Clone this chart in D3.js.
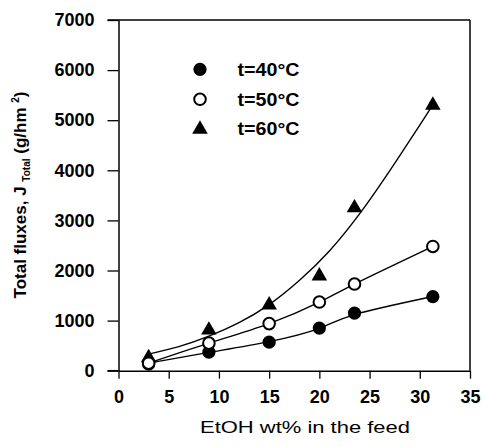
<!DOCTYPE html>
<html><head><meta charset="utf-8">
<script src="https://cdn.jsdelivr.net/npm/d3@7"></script>
<style>body{margin:0;background:#fff}svg{display:block}</style>
</head><body>
<svg id="c" width="483" height="447"></svg>
<script>
const etoh = [3, 9, 15, 20, 23.5, 31.3];
const flux40 = [130, 370, 570, 850, 1150, 1480];
const flux50 = [150, 550, 940, 1370, 1730, 2480];
const flux60 = [280, 830, 1330, 1910, 3270, 5320];
// fitted curves
const fit40y = [150, 365, 580, 845, 1120, 1480];
const fit60x = [3, 6, 9, 12, 15, 18, 21, 24, 27, 30, 31.3];
const fit60y = [330, 480, 690, 960, 1320, 1800, 2390, 3130, 3990, 4900, 5310];
const xTicks = [0, 5, 10, 15, 20, 25, 30, 35];
const yTicks = [0, 1000, 2000, 3000, 4000, 5000, 6000, 7000];
const legendLabels = ["t=40°C", "t=50°C", "t=60°C"];

const svg = d3.select("#c");
const x = d3.scaleLinear().domain([0, 35]).range([118.5, 470]);
const y = d3.scaleLinear().domain([0, 7000]).range([370.7, 20]);
const font = "'Liberation Sans', Arial, sans-serif";

// frame
svg.append("line").attr("x1", x(0)-11).attr("x2", x(35)).attr("y1", y(7000)).attr("y2", y(7000)).attr("stroke", "#000").attr("stroke-width", 1.5);
svg.append("line").attr("x1", x(35)).attr("x2", x(35)).attr("y1", y(7000)).attr("y2", y(0)).attr("stroke", "#000").attr("stroke-width", 1.5);

const xa = svg.append("g").attr("transform", `translate(0,${y(0)})`)
  .call(d3.axisBottom(x).tickValues(xTicks).tickFormat(d3.format("d")).tickSize(8).tickPadding(12).tickSizeOuter(0));
const ya = svg.append("g").attr("transform", `translate(${x(0)},0)`)
  .call(d3.axisLeft(y).tickValues(yTicks).tickFormat(d3.format("d")).tickSize(11).tickPadding(13).tickSizeOuter(0));
[xa, ya].forEach(g => {
  g.select(".domain").attr("stroke-width", 1.5);
  g.selectAll(".tick line").attr("stroke-width", 1.3);
  g.selectAll("text").attr("font-family", font).attr("font-weight", "bold").attr("font-size", 18).attr("fill", "#000");
});
svg.append("line").attr("x1", x(0)-11).attr("x2", x(0)).attr("y1", y(0)).attr("y2", y(0)).attr("stroke", "#000").attr("stroke-width", 1.5);

// curves
const smooth = d3.line().x(d => x(d[0])).y(d => y(d[1])).curve(d3.curveNatural);
const lineStyle = p => p.attr("fill", "none").attr("stroke", "#000").attr("stroke-width", 1.4);
svg.append("path").datum(etoh.map((v, i) => [v, fit40y[i]])).attr("d", smooth).call(lineStyle);
svg.append("path").datum(etoh.map((v, i) => [v, flux50[i]])).attr("d", smooth).call(lineStyle);
svg.append("path").datum(fit60x.map((v, i) => [v, fit60y[i]])).attr("d", smooth).call(lineStyle);

const tri = d3.symbol().type(d3.symbolTriangle).size(105);
function marker(g, kind, cx, cy) {
  if (kind === 0) g.append("circle").attr("cx", cx).attr("cy", cy).attr("r", 6.6).attr("fill", "#000");
  else if (kind === 1) g.append("circle").attr("cx", cx).attr("cy", cy).attr("r", 5.8).attr("fill", "#fff").attr("stroke", "#000").attr("stroke-width", 2);
  else g.append("path").attr("d", tri).attr("transform", `translate(${cx},${cy+1})`).attr("fill", "#000");
}
const pts = svg.append("g");
etoh.forEach((v, i) => marker(pts, 2, x(v), y(flux60[i])));
etoh.forEach((v, i) => marker(pts, 0, x(v), y(flux40[i])));
etoh.forEach((v, i) => marker(pts, 1, x(v), y(flux50[i])));

// legend
const legY = [69.3, 99.3, 128.3];
legendLabels.forEach((t, i) => {
  marker(svg, i, 200, legY[i]);
  svg.append("text").attr("x", 237.5).attr("y", legY[i] + 6.5).text(t)
    .attr("font-family", font).attr("font-weight", "bold").attr("font-size", 18)
    .attr("textLength", 62).attr("lengthAdjust", "spacingAndGlyphs");
});

// axis titles
svg.append("text").attr("x", 305).attr("y", 433).attr("text-anchor", "middle")
  .attr("font-family", font).attr("font-size", 16.5).attr("textLength", 210).attr("lengthAdjust", "spacingAndGlyphs")
  .text("EtOH wt% in the feed");

const yt = svg.append("text").attr("transform", "translate(26,195) rotate(-90)").attr("text-anchor", "middle")
  .attr("font-family", font).attr("font-weight", "bold").attr("font-size", 17);
yt.append("tspan").text("Total fluxes, J ");
yt.append("tspan").attr("font-size", 10).attr("dy", 4).text("Total");
yt.append("tspan").attr("dy", -4).text(" (g/hm ");
yt.append("tspan").attr("font-size", 10).attr("dy", -7).text("2");
yt.append("tspan").attr("dy", 7).text(")");
</script>
</body></html>
